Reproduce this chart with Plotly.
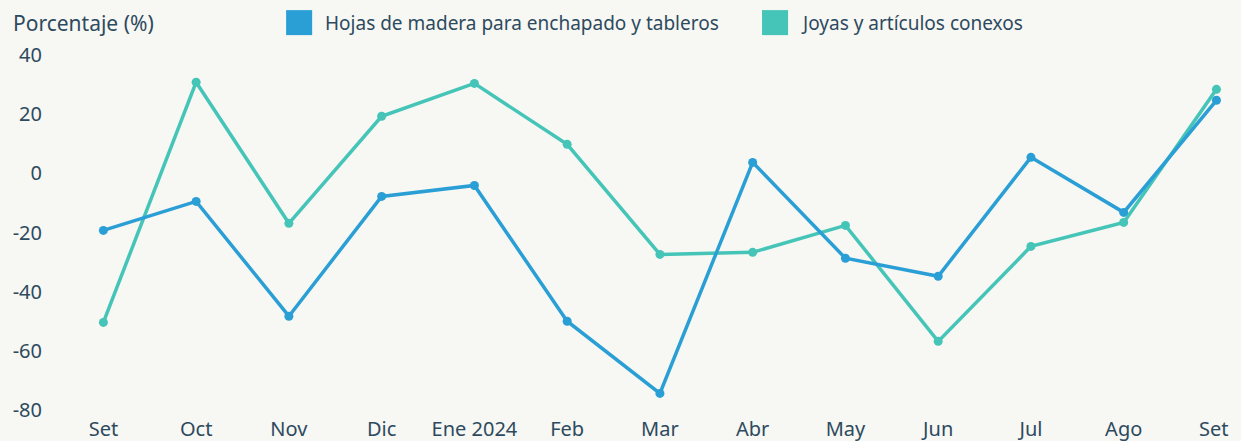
import plotly.graph_objects as go

months = ["Set", "Oct", "Nov", "Dic", "Ene 2024", "Feb", "Mar", "Abr", "May", "Jun", "Jul", "Ago", "Set "]
hojas = [-19.3, -9.5, -48.3, -7.8, -4.1, -50.0, -74.4, 3.7, -28.7, -34.8, 5.4, -13.2, 24.7]
joyas = [-50.4, 30.8, -16.9, 19.3, 30.4, 9.8, -27.4, -26.7, -17.6, -56.8, -24.7, -16.6, 28.4]
name_hojas = "Hojas de madera para enchapado y tableros"
name_joyas = "Joyas y artículos conexos"
y_ticks = [40, 20, 0, -20, -40, -60, -80]

c_hojas = "#2a9fd6"
c_joyas = "#45c4b8"
txt = "#2d4a5e"
bg = "#f7f7f3"
font = "Noto Sans"

fig = go.Figure()
fig.add_trace(go.Scatter(x=months, y=joyas, mode="lines+markers", name=name_joyas,
                         line=dict(color=c_joyas, width=3.5), marker=dict(size=9, color=c_joyas),
                         showlegend=False))
fig.add_trace(go.Scatter(x=months, y=hojas, mode="lines+markers", name=name_hojas,
                         line=dict(color=c_hojas, width=3.5), marker=dict(size=9, color=c_hojas),
                         showlegend=False))

# custom legend (squares + labels)
ly0 = 1.056
lh = 25 / 355
legend_items = [(name_hojas, c_hojas, 0.1945), (name_joyas, c_joyas, 0.5985)]
for name, col, x0 in legend_items:
    fig.add_shape(type="rect", xref="paper", yref="paper",
                  x0=x0, x1=x0 + 0.0221, y0=ly0, y1=ly0 + lh,
                  fillcolor=col, line=dict(width=0))
    fig.add_annotation(text=name, xref="paper", yref="paper", x=x0 + 0.031, y=ly0 + lh / 2,
                       xanchor="left", yanchor="middle", showarrow=False,
                       font=dict(family=font, size=19, color=txt))

fig.add_annotation(text="Porcentaje (%)", xref="paper", yref="paper", x=-0.039, y=ly0 + lh / 2,
                   xanchor="left", yanchor="middle", showarrow=False,
                   font=dict(family=font, size=21, color=txt))

fig.update_layout(
    width=1241, height=441,
    margin=dict(l=57, r=6, t=55, b=31),
    paper_bgcolor=bg, plot_bgcolor=bg,
    font=dict(family=font, size=20, color=txt),
    xaxis=dict(type="category", range=[-0.5, 12.2], showgrid=False, zeroline=False,
               showline=False, ticks="", ticklabelstandoff=5, automargin=False,
               tickfont=dict(size=20, color=txt)),
    yaxis=dict(range=[-80, 40], tickvals=y_ticks, ticktext=[str(v) for v in y_ticks],
               showgrid=False, zeroline=False, showline=False, ticks="", automargin=False,
               ticklabelstandoff=14, tickfont=dict(size=20, color=txt)),
)

fig.write_html("out.html", config={"displayModeBar": False},
               post_script="document.body.style.margin='0';document.body.style.overflow='hidden';"
                           "document.body.style.background='" + bg + "';")
